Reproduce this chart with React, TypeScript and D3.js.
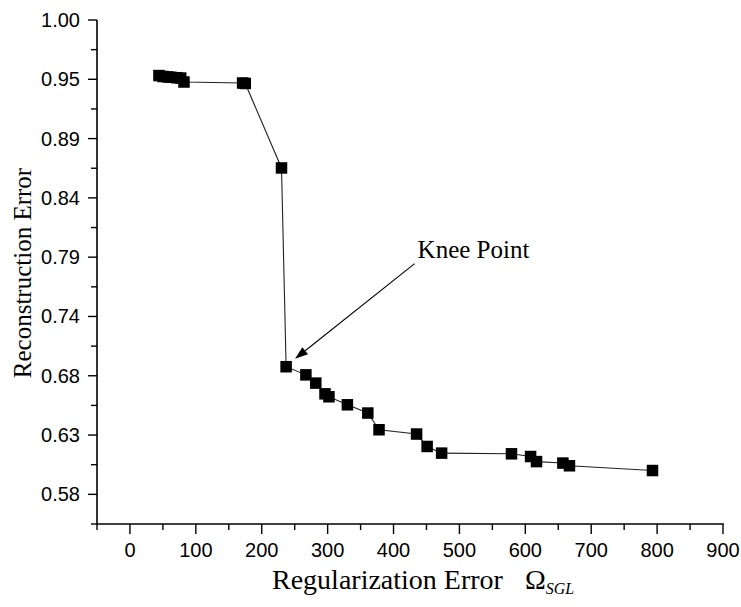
import React from "react";
import * as d3 from "d3";

const xValues = [44, 50, 57, 62, 71, 77, 82, 171, 175, 230, 237, 267, 282, 296, 302, 330, 361, 378, 435, 451, 473, 579, 608, 617, 657, 667, 793];
const yValues = [0.9508, 0.9500, 0.9496, 0.9493, 0.9489, 0.9486, 0.9451, 0.9442, 0.9438, 0.869, 0.693, 0.6858, 0.6785, 0.669, 0.6664, 0.6593, 0.652, 0.6372, 0.6334, 0.6224, 0.6165, 0.6159, 0.6135, 0.609, 0.6077, 0.6053, 0.6011];

const xTicks = [0, 100, 200, 300, 400, 500, 600, 700, 800, 900];
const xMinorTicks = [-50, 50, 150, 250, 350, 450, 550, 650, 750, 850];
const yTicks = [1.0, 0.9475, 0.895, 0.8425, 0.79, 0.7375, 0.685, 0.6325, 0.58];
const yTickLabels = ["1.00", "0.95", "0.89", "0.84", "0.79", "0.74", "0.68", "0.63", "0.58"];
const yMinorTicks = [0.97375, 0.92125, 0.86875, 0.81625, 0.76375, 0.71125, 0.65875, 0.60625, 0.55375];

const xDomain = [-50, 900];
const yDomain = [0.55375, 1.0];

const annotationText = "Knee Point";
const annotationFrom = [432, 0.7843];
const annotationTo = [250.5, 0.7];

export default function App() {
  const W = 741, H = 607;
  const x = d3.scaleLinear().domain(xDomain).range([97, 723]);
  const y = d3.scaleLinear().domain(yDomain).range([524, 20]);
  const data = xValues.map((v, i) => [v, yValues[i]] as [number, number]);
  const line = d3.line<[number, number]>().x(d => x(d[0])).y(d => y(d[1]));
  const sq = 11.5;

  const ax0 = x(annotationFrom[0]), ay0 = y(annotationFrom[1]);
  const ax1 = x(annotationTo[0]), ay1 = y(annotationTo[1]);
  const ang = Math.atan2(ay1 - ay0, ax1 - ax0);
  const hl = 13, hw = 4.5;
  const bx = ax1 - hl * Math.cos(ang), by = ay1 - hl * Math.sin(ang);
  const head = `M${ax1},${ay1} L${bx + hw * Math.sin(ang)},${by - hw * Math.cos(ang)} L${bx - hw * Math.sin(ang)},${by + hw * Math.cos(ang)} Z`;

  const serif = "'Liberation Serif', 'Times New Roman', serif";
  const sans = "'Liberation Sans', Arial, sans-serif";

  return (
    <svg width={W} height={H} style={{ position: "absolute", left: 0, top: 0, background: "#fff" }}>
      <rect width={W} height={H} fill="#fff" />
      {/* axes */}
      <line x1={97} x2={97} y1={y(yDomain[1])} y2={y(yDomain[0])} stroke="#000" strokeWidth={1.6} />
      <line x1={96.2} x2={723.8} y1={524} y2={524} stroke="#000" strokeWidth={1.6} />
      {yTicks.map((t, i) => (
        <g key={"yt" + i}>
          <line x1={88} x2={97} y1={y(t)} y2={y(t)} stroke="#000" strokeWidth={1.4} />
          <text x={80} y={y(t)} dy="0.35em" textAnchor="end" fontFamily={sans} fontSize={20}>{yTickLabels[i]}</text>
        </g>
      ))}
      {yMinorTicks.map((t, i) => (
        <line key={"ym" + i} x1={91} x2={97} y1={y(t)} y2={y(t)} stroke="#000" strokeWidth={1.4} />
      ))}
      {xTicks.map((t, i) => (
        <g key={"xt" + i}>
          <line x1={x(t)} x2={x(t)} y1={524} y2={534} stroke="#000" strokeWidth={1.4} />
          <text x={x(t)} y={557} textAnchor="middle" fontFamily={sans} fontSize={20}>{t}</text>
        </g>
      ))}
      {xMinorTicks.map((t, i) => (
        <line key={"xm" + i} x1={x(t)} x2={x(t)} y1={524} y2={530} stroke="#000" strokeWidth={1.4} />
      ))}
      {/* titles */}
      <text transform="translate(31,273) rotate(-90)" textAnchor="middle" fontFamily={serif} fontSize={25}>Reconstruction Error</text>
      <text x={272} y={589} fontFamily={serif} fontSize={28}>
        Regularization Error
        <tspan dx={22}>Ω</tspan>
        <tspan fontSize={16} fontStyle="italic" dy={5}>SGL</tspan>
      </text>
      {/* data */}
      <path d={line(data) || ""} fill="none" stroke="#222" strokeWidth={1.1} />
      {data.map((d, i) => (
        <rect key={"p" + i} x={x(d[0]) - sq / 2} y={y(d[1]) - sq / 2} width={sq} height={sq} fill="#000" />
      ))}
      {/* annotation */}
      <line x1={ax0} y1={ay0} x2={bx} y2={by} stroke="#000" strokeWidth={1.1} />
      <path d={head} fill="#000" />
      <text x={ax0 + 3} y={ay0 - 6} fontFamily={serif} fontSize={25}>{annotationText}</text>
    </svg>
  );
}
